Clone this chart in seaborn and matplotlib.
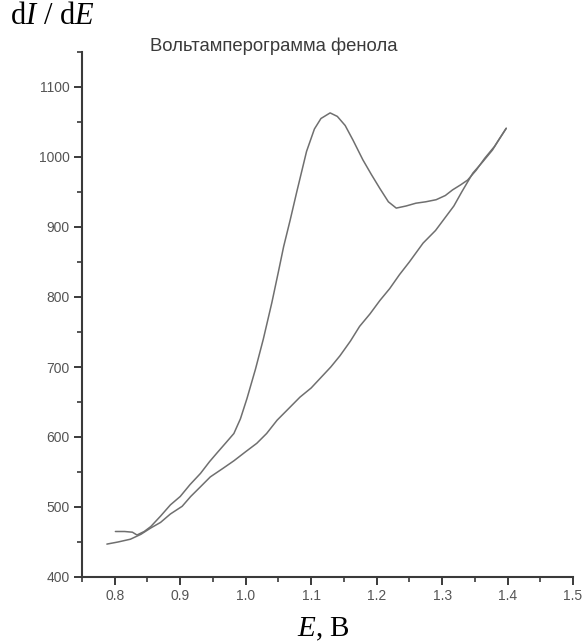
import matplotlib
matplotlib.use("Agg")
import matplotlib.pyplot as plt
from matplotlib.ticker import MultipleLocator
import pandas as pd
import seaborn as sns

# Anodic (forward) sweep of phenol: potential, V and dI/dE
forward_E = [0.801, 0.815, 0.827, 0.834, 0.845, 0.855, 0.870, 0.885, 0.900, 0.915,
             0.931, 0.945, 0.956, 0.970, 0.982, 0.992, 1.002, 1.015, 1.027, 1.040,
             1.050, 1.058, 1.068, 1.078, 1.093, 1.105, 1.115, 1.129, 1.140, 1.152,
             1.164, 1.179, 1.192, 1.205, 1.218, 1.230, 1.245, 1.260, 1.275, 1.291,
             1.305, 1.316, 1.328, 1.339, 1.352, 1.365, 1.380, 1.398]
forward_I = [465, 465, 464, 460, 465, 472, 487, 503, 515, 532,
             548, 565, 577, 592, 605, 626, 655, 697, 740, 792,
             836, 872, 910, 950, 1008, 1040, 1055, 1063, 1058, 1045,
             1024, 996, 975, 955, 936, 927, 930, 934, 936, 939,
             945, 953, 960, 967, 981, 998, 1015, 1041]

# Reverse sweep back to the starting potential
reverse_E = [1.398, 1.387, 1.377, 1.362, 1.347, 1.330, 1.318, 1.306, 1.290, 1.271,
             1.250, 1.235, 1.220, 1.205, 1.190, 1.174, 1.160, 1.144, 1.130, 1.114,
             1.100, 1.083, 1.065, 1.048, 1.032, 1.017, 1.000, 0.982, 0.965, 0.946,
             0.930, 0.916, 0.903, 0.885, 0.870, 0.855, 0.840, 0.824, 0.805, 0.788]
reverse_I = [1041, 1025, 1010, 993, 977, 950, 930, 915, 895, 877,
             850, 832, 812, 795, 776, 758, 737, 716, 700, 684,
             670, 657, 640, 624, 605, 591, 579, 566, 555, 543,
             528, 515, 501, 490, 478, 470, 461, 454, 450, 447]

x_ticks = [0.8, 0.9, 1.0, 1.1, 1.2, 1.3, 1.4, 1.5]
y_ticks = [400, 500, 600, 700, 800, 900, 1000, 1100]

title_text = "Вольтамперограмма фенола"

sns.set_style("ticks")
plt.rcParams["font.family"] = ["Liberation Sans", "DejaVu Sans"]
plt.rcParams["mathtext.fontset"] = "custom"
plt.rcParams["mathtext.rm"] = "Liberation Serif"
plt.rcParams["mathtext.it"] = "Liberation Serif:italic"

fig = plt.figure(figsize=(5.86, 6.44), dpi=100)
ax = fig.add_axes([82 / 586, 1 - 577 / 644, (573 - 82) / 586, (577 - 52) / 644])

fwd = pd.DataFrame({"E": forward_E, "dIdE": forward_I})
rev = pd.DataFrame({"E": reverse_E, "dIdE": reverse_I})
line_kw = dict(color="#6f6f6f", linewidth=1.1, sort=False, estimator=None)
sns.lineplot(data=fwd, x="E", y="dIdE", ax=ax, **line_kw)
sns.lineplot(data=rev, x="E", y="dIdE", ax=ax, **line_kw)

ax.set_xlim(0.75, 1.5)
ax.set_ylim(400, 1150)
ax.set_xticks(x_ticks)
ax.set_xticklabels([f"{v:.1f}" for v in x_ticks])
ax.set_yticks(y_ticks)
ax.set_yticklabels([str(v) for v in y_ticks])
ax.xaxis.set_minor_locator(MultipleLocator(0.05))
ax.yaxis.set_minor_locator(MultipleLocator(50))
ax.set_xlabel("")
ax.set_ylabel("")

for side in ("top", "right"):
    ax.spines[side].set_visible(False)
for side in ("left", "bottom"):
    ax.spines[side].set_color("#3a3a3a")
    ax.spines[side].set_linewidth(1.5)
ax.tick_params(which="major", direction="out", length=6, width=1.4,
               color="#3a3a3a", labelsize=10, labelcolor="#555555", pad=3)
ax.tick_params(which="minor", direction="out", length=3.5, width=1.2,
               color="#3a3a3a")

fig.text(150 / 586, 1 - 46 / 644, title_text, fontsize=13.3, color="#3a3a3a",
         va="center", ha="left")
fig.text(10 / 586, 1 - 24 / 644, r"d$\mathit{I}$ / d$\mathit{E}$",
         family="Liberation Serif", fontsize=22, color="black",
         va="baseline", ha="left")
fig.text(323 / 586, 1 - 636 / 644, r"$\mathit{E}$, В",
         family="Liberation Serif", fontsize=21, color="black",
         va="baseline", ha="center")

fig.savefig("out.png", dpi=100)
